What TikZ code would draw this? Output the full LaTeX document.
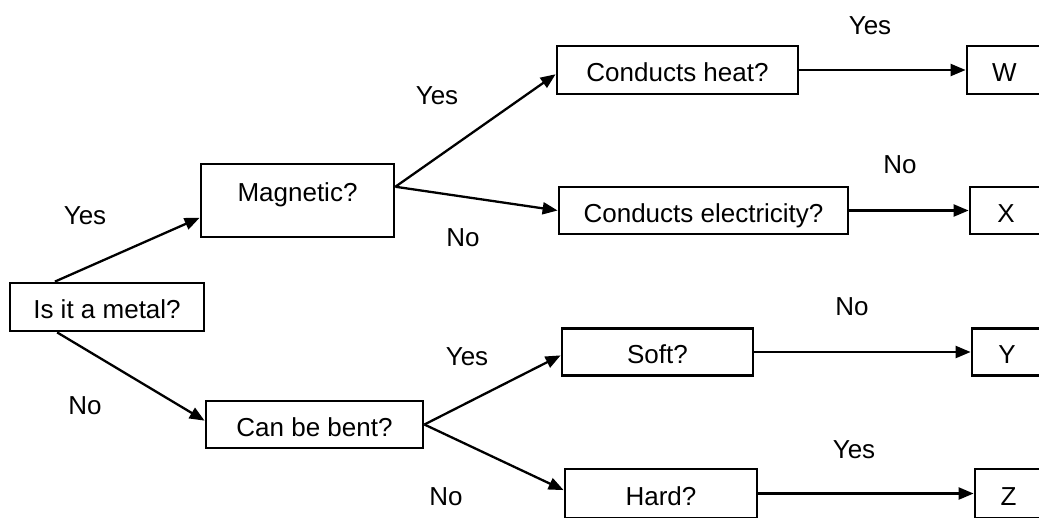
\documentclass[tikz,border=0pt]{standalone}
\usepackage{fontspec}
\setmainfont{Liberation Sans}
\usetikzlibrary{arrows.meta}
\begin{document}
\begin{tikzpicture}[x=1pt,y=-1pt,
  txt/.style={font=\fontsize{26}{30}\selectfont, inner sep=0pt},
  box/.style={txt, draw, line width=2.8pt, text height=23.6pt, text depth=0pt},
  lab/.style={txt, text height=18.6pt, text depth=0pt},
  arr/.style={line width=2.3pt, -{Triangle[length=15pt,width=12pt]}}]
\useasboundingbox (0,0) rectangle (1039,517);
\clip (0,0) rectangle (1039,517);

% question boxes
\node[box, minimum width=194pt, minimum height=48pt] (metal) at (107,307) {Is it a metal?};
\node[box, minimum width=193pt, minimum height=73pt, text height=18.6pt, text depth=17pt] (magnetic) at (297.5,200.5) {Magnetic?};
\node[box, minimum width=217pt, minimum height=47pt] (bent) at (314.5,424.5) {Can be bent?};
\node[box, minimum width=241pt, minimum height=48pt] (heat) at (677.5,70) {Conducts heat?};
\node[box, minimum width=289pt, minimum height=47pt] (elec) at (703.5,210.5) {Conducts electricity?};
\node[box, minimum width=191pt, minimum height=47pt] (soft) at (657.5,352) {Soft?};
\node[box, minimum width=192pt, minimum height=49pt] (hard) at (661,493.5) {Hard?};

% outcome boxes
\node[box, minimum width=75pt, minimum height=48pt] (W) at (1004.5,70) {W};
\node[box, minimum width=72pt, minimum height=47pt] (X) at (1006,210.5) {X};
\node[box, minimum width=70pt, minimum height=47pt] (Y) at (1007,352) {Y};
\node[box, minimum width=67pt, minimum height=49pt] (Z) at (1008.5,493.5) {Z};

% connectors
\draw[arr] (metal.154) -- (magnetic.190);
\draw[arr] (metal.207) -- (bent.178);
\draw[arr] (magnetic.8) -- (heat.182);
\draw[arr] (magnetic.8) -- (elec.west);
\draw[arr] (bent.east) -- (soft.182);
\draw[arr] (bent.east) -- (hard.178);
\draw[arr] (heat) -- (W);
\draw[arr] (elec) -- (X);
\draw[arr] (soft) -- (Y);
\draw[arr] (hard) -- (Z);

% branch labels
\node[lab] (l1) at (85,215) {Yes};
\node[lab] (l2) at (85,405) {No};
\node[lab] (l3) at (437,95) {Yes};
\node[lab] (l4) at (463,237) {No};
\node[lab] (l5) at (467,356) {Yes};
\node[lab] (l6) at (446,496) {No};
\node[lab] (l7) at (870,25) {Yes};
\node[lab] (l8) at (900,164) {No};
\node[lab] (l9) at (852,306) {No};
\node[lab] (l10) at (854,449) {Yes};
\end{tikzpicture}
\end{document}
